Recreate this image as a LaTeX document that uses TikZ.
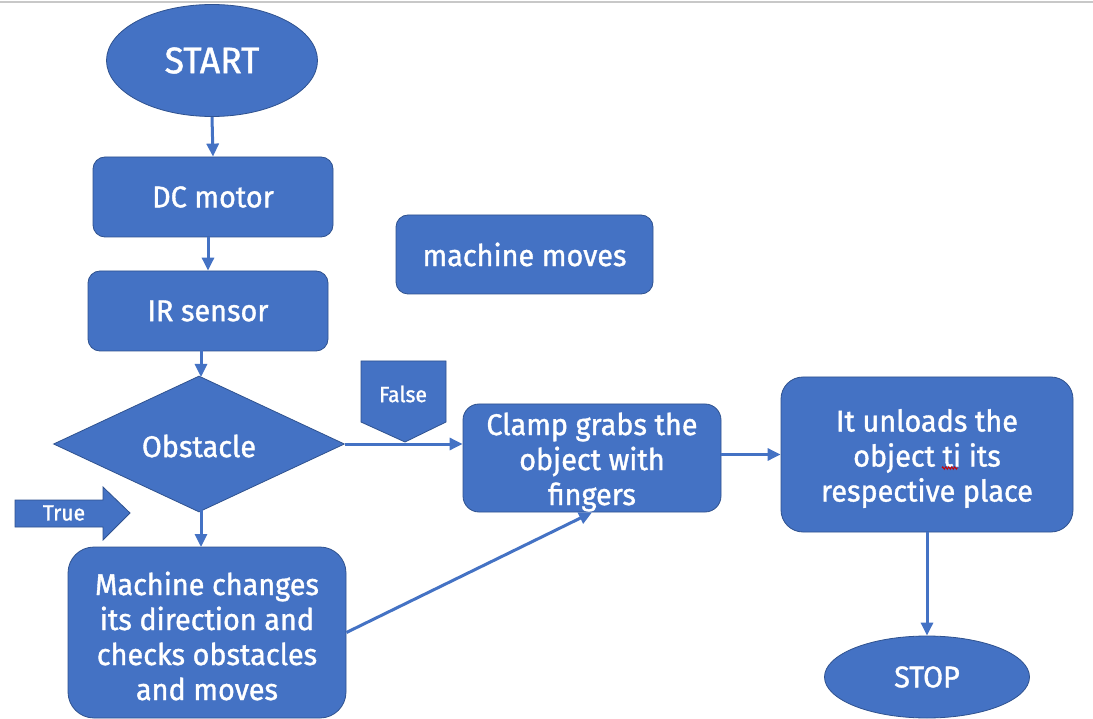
\documentclass[tikz,border=0pt]{standalone}
\usepackage{fontspec}
\setmainfont{Fira Sans}[FakeBold=1.2,FakeStretch=0.96]
\usetikzlibrary{shapes.geometric,arrows.meta,decorations.pathmorphing}
\definecolor{boxblue}{HTML}{4472C4}
\definecolor{edgeblue}{HTML}{2F528F}
\definecolor{topgrey}{HTML}{C8C8C8}
\begin{document}
\begin{tikzpicture}[x=1pt,y=-1pt,
  blk/.style={draw=edgeblue, line width=0.8pt, fill=boxblue, text=white, align=center, inner sep=0pt},
  rbox/.style={blk, rectangle, rounded corners=12pt, font=\fontsize{30}{35}\selectfont},
  boxtext/.style={text=white, align=center, inner sep=0pt, font=\fontsize{30}{35}\selectfont, yshift=-4pt},
  oval/.style={blk, ellipse},
  conn/.style={draw=boxblue, line width=3pt, -{Triangle[length=13pt,width=12pt]}},
  smalltxt/.style={text=white, font=\fontsize{22}{26}\selectfont, inner sep=0pt}
]
\useasboundingbox (0,0) rectangle (1093,719);
\fill[white] (0,0) rectangle (1093,719);
\draw[topgrey, line width=2pt] (0,2) -- (1093,2);

% nodes
\node[oval, minimum width=211pt, minimum height=112pt, font=\fontsize{37}{40}\selectfont] (start) at (212,60.5) {START};
\node[rbox, minimum width=240pt, minimum height=80pt] (dc) at (213,197) {DC motor};
\node[rbox, minimum width=240pt, minimum height=80pt] (ir) at (208,311) {IR sensor};
\node[blk, diamond, minimum width=291pt, minimum height=136pt] (obst) at (199,444) {};
\node[text=white, font=\fontsize{30}{35}\selectfont, inner sep=0pt] (obsttxt) at (199,446) {Obstacle};
\node[rbox, minimum width=257pt, minimum height=79pt] (moves) at (524.5,254.5) {machine moves};
\node[blk, rectangle, rounded corners=16pt, minimum width=258pt, minimum height=108pt,
  label={[boxtext]center:{Clamp grabs the\\object with\\fingers}}] (clamp) at (592,458) {};
\node[blk, rectangle, rounded corners=22pt, minimum width=292pt, minimum height=155pt,
  label={[boxtext]center:{It unloads the\\object ti its\\respective place}}] (unload) at (927,454.5) {};
\node[blk, rectangle, rounded corners=26pt, minimum width=278pt, minimum height=171pt,
  label={[boxtext, yshift=0.5pt]center:{Machine changes\\its direction and\\checks obstacles\\and moves}}] (mach) at (207,632.5) {};
\node[oval, minimum width=205pt, minimum height=82pt, font=\fontsize{30}{35}\selectfont] (stop) at (927,677) {STOP};

% spell-check squiggle under "ti"
\draw[red!80!black, line width=0.9pt, decorate, decoration={zigzag, segment length=3pt, amplitude=1.2pt}] (942,468) -- (958,468);

% connectors
\draw[conn] (start.south) -- (dc.north);
\draw[conn] (ir.north |- dc.south) -- (ir.north);
\coordinate (irdown) at (201,350);
\coordinate (obsttop) at (201,377);
\draw[conn] (irdown) -- (obsttop);
\draw[conn] (obst.east) -- (obst.east -| clamp.west);
\coordinate (obstbot) at (201,510);
\coordinate (machtop) at (201,547);
\draw[conn] (obstbot) -- (machtop);
\draw[conn] (mach.east) -- (clamp.south);
\draw[conn] (clamp.east |- unload.west) -- (unload.west);
\draw[conn] (unload.south) -- (stop.north);

% False callout
\draw[blk] (361,361) -- (446,361) -- (446,422) -- (405,442) -- (361,422) -- cycle;
\node[smalltxt] (falsetxt) at (403,394) {False};

% True block arrow
\draw[blk] (15,500) -- (103,500) -- (103,487) -- (130,513) -- (103,540) -- (103,527) -- (15,527) -- cycle;
\node[smalltxt] (truetxt) at (64,513) {True};
\end{tikzpicture}
\end{document}
